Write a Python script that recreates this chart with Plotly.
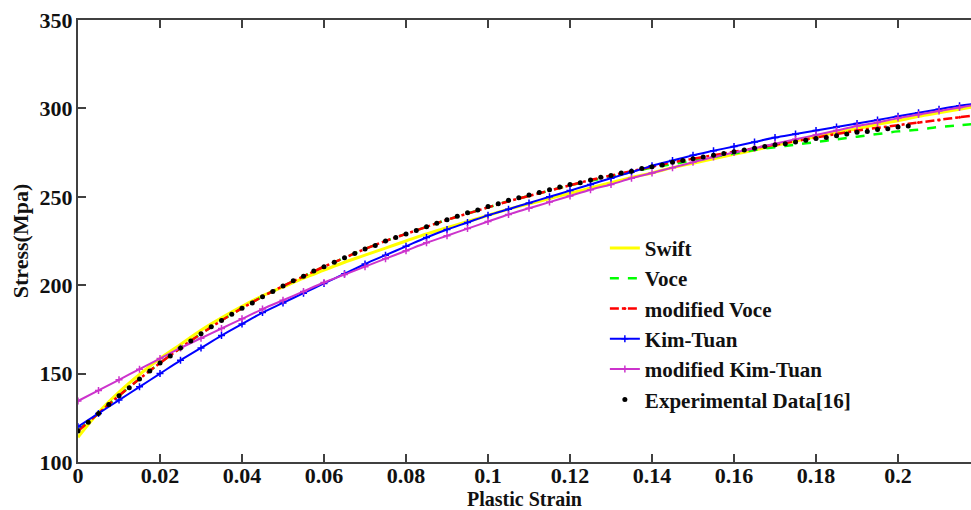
import plotly.graph_objects as go

# Fitted-curve strain grid
strain_fit = [0.0, 0.005, 0.01, 0.015, 0.02, 0.025, 0.03, 0.035, 0.04, 0.045,
              0.05, 0.055, 0.06, 0.065, 0.07, 0.075, 0.08, 0.085, 0.09, 0.095,
              0.1, 0.105, 0.11, 0.115, 0.12, 0.125, 0.13, 0.135, 0.14, 0.145,
              0.15, 0.155, 0.16, 0.165, 0.17, 0.175, 0.18, 0.185, 0.19, 0.195,
              0.2, 0.205, 0.21, 0.215, 0.22]

swift = [114, 128, 139.5, 149.5, 158.5, 166.5, 174.5, 181.5, 188, 194,
         199, 204, 208.5, 213, 217, 221, 225, 229, 232.5, 236,
         239.5, 243, 246, 249, 252, 255, 258, 261, 263.5, 266.5,
         269, 271.5, 274, 276.5, 279, 281.5, 284, 286.5, 288.5, 291,
         293, 295.5, 297.5, 299.5, 301.5]

voce = [118, 127.5, 137.5, 147, 156, 164.5, 172.5, 180, 187, 193.5,
        199.5, 205, 210.5, 215.5, 220.5, 225, 229, 233, 237, 240.5,
        244, 247.5, 250.5, 253.5, 256.5, 259, 261.5, 264, 266.5, 268.5,
        270.5, 272.5, 274.5, 276.5, 278, 279.5, 281, 282.5, 284, 285.5,
        287, 288, 289.5, 290.5, 291.5]

mod_voce = [117.5, 127.5, 137.5, 147, 156, 164.5, 172.5, 180, 187, 193.5,
            199.5, 205, 210.5, 215.5, 220.5, 225, 229, 233, 237, 240.5,
            244, 247.5, 250.5, 253.5, 256.5, 259.5, 262, 264.5, 267, 269.5,
            271.5, 273.5, 275.5, 277.5, 279.5, 281.5, 283.5, 285.5, 287.5, 289,
            290.5, 292, 293.5, 295, 296.5]

kim_tuan = [120, 127.5, 135, 142.5, 150, 157.5, 164.5, 171.5, 178, 184.5,
            190, 195.5, 201, 206.5, 212, 217, 222, 227, 231.5, 235.5,
            239.5, 243, 246.5, 250, 253.5, 257, 260.5, 264, 267.5, 270.5,
            273.5, 276, 278.5, 281, 283.5, 285.5, 287.5, 289.5, 291.5, 293.5,
            295.5, 297.5, 299.5, 301.5, 303]

mod_kim_tuan = [134.5, 140.5, 146.5, 152.5, 158.5, 164.5, 170, 175.5, 181, 186.5,
                191.5, 196.5, 201.5, 206, 210.5, 215, 219.5, 224, 228, 232,
                236, 240, 243.5, 247, 250.5, 254, 257, 260.5, 263.5, 266.5,
                269.5, 272.5, 275, 277.5, 280, 282.5, 285, 287.5, 290, 292,
                294.5, 296.5, 298.5, 300.5, 302.5]

# Experimental data [16]
strain_exp = [0.0, 0.0025, 0.005, 0.0075, 0.01, 0.0125, 0.015, 0.0175, 0.02, 0.0225,
              0.025, 0.0275, 0.03, 0.0325, 0.035, 0.0375, 0.04, 0.0425, 0.045, 0.0475,
              0.05, 0.0525, 0.055, 0.0575, 0.06, 0.0625, 0.065, 0.0675, 0.07, 0.0725,
              0.075, 0.0775, 0.08, 0.0825, 0.085, 0.0875, 0.09, 0.0925, 0.095, 0.0975,
              0.1, 0.1025, 0.105, 0.1075, 0.11, 0.1125, 0.115, 0.1175, 0.12, 0.1225,
              0.125, 0.1275, 0.13, 0.1325, 0.135, 0.1375, 0.14, 0.1425, 0.145, 0.1475,
              0.15, 0.1525, 0.155, 0.1575, 0.16, 0.1625, 0.165, 0.1675, 0.17, 0.1725,
              0.175, 0.1775, 0.18, 0.1825, 0.185, 0.1875, 0.19, 0.1925, 0.195, 0.1975,
              0.2, 0.2025]
stress_exp = [117.5, 122.5, 127.5, 132.5, 137.5, 142, 147, 151.5, 156, 160,
              164.5, 168.5, 172.5, 176.5, 180, 183.5, 187, 190, 193.5, 196.5,
              199.5, 202.5, 205, 208, 210.5, 213, 215.5, 218, 220.5, 222.5,
              225, 227, 229, 231, 233, 235, 237, 239, 241, 242.5,
              244.5, 246, 248, 249.5, 251, 252.5, 254, 255.5, 257, 258,
              259.5, 261, 262, 263.5, 264.5, 266, 267, 268, 269.5, 270.5,
              271.5, 272.5, 273.5, 274.5, 275.5, 276.5, 277.5, 278.5, 279.5, 280,
              281, 282, 283, 283.5, 284.5, 285.5, 286.5, 287, 288, 288.5,
              289.5, 290]

x_ticks = [0, 0.02, 0.04, 0.06, 0.08, 0.1, 0.12, 0.14, 0.16, 0.18, 0.2]
x_tick_text = ["0", "0.02", "0.04", "0.06", "0.08", "0.1", "0.12", "0.14", "0.16", "0.18", "0.2"]
y_ticks = [100, 150, 200, 250, 300, 350]

FONT = "Liberation Serif"

fig = go.Figure()
fig.add_trace(go.Scatter(x=strain_fit, y=swift, name="Swift", mode="lines",
                         line=dict(color="#FFFF00", width=3, shape="spline")))
fig.add_trace(go.Scatter(x=strain_fit, y=voce, name="Voce", mode="lines",
                         line=dict(color="#00FF00", width=2.5, dash="dash", shape="spline")))
fig.add_trace(go.Scatter(x=strain_fit, y=mod_voce, name="modified Voce", mode="lines+markers",
                         line=dict(color="#FF0000", width=2.5, dash="dashdot", shape="spline"),
                         marker=dict(color="#FF0000", size=3)))
fig.add_trace(go.Scatter(x=strain_fit, y=kim_tuan, name="Kim-Tuan", mode="lines+markers",
                         line=dict(color="#0000FF", width=2, shape="spline"),
                         marker=dict(color="#0000FF", size=5, symbol="cross-thin",
                                     line=dict(color="#0000FF", width=1.5))))
fig.add_trace(go.Scatter(x=strain_fit, y=mod_kim_tuan, name="modified Kim-Tuan", mode="lines+markers",
                         line=dict(color="#CC33CC", width=2, shape="spline"),
                         marker=dict(color="#CC33CC", size=5, symbol="cross-thin",
                                     line=dict(color="#CC33CC", width=1.5))))
fig.add_trace(go.Scatter(x=strain_exp, y=stress_exp, name="Experimental Data[16]", mode="markers",
                         marker=dict(color="#000000", size=5)))

axis_common = dict(
    showgrid=False, zeroline=False, showline=True, linecolor="#404040", linewidth=2,
    ticks="inside", ticklen=8, tickwidth=2, tickcolor="#404040",
    tickfont=dict(family=FONT, size=22, color="#111111", weight="bold"),
)

fig.update_layout(
    width=971, height=510,
    margin=dict(l=78, r=0, t=20, b=48),
    paper_bgcolor="white", plot_bgcolor="white",
    font=dict(family=FONT, color="#111111"),
    xaxis=dict(range=[0, 0.2178], tickvals=x_ticks, ticktext=x_tick_text, mirror="ticks",
               ticklabelstandoff=-7,
               title=dict(text="Plastic Strain", font=dict(family=FONT, size=20, weight="bold"), standoff=0),
               **axis_common),
    yaxis=dict(range=[100, 350], tickvals=y_ticks, ticklabelstandoff=-1,
               title=dict(text="Stress(Mpa)", font=dict(family=FONT, size=22, weight="bold"), standoff=5),
               **axis_common),
    legend=dict(x=0.59, y=0.53, xanchor="left", yanchor="top", bgcolor="rgba(0,0,0,0)",
                font=dict(family=FONT, size=21, color="#111111", weight="bold"),
                itemwidth=30, tracegroupgap=0),
    showlegend=True,
)

fig.write_html("out.html")
